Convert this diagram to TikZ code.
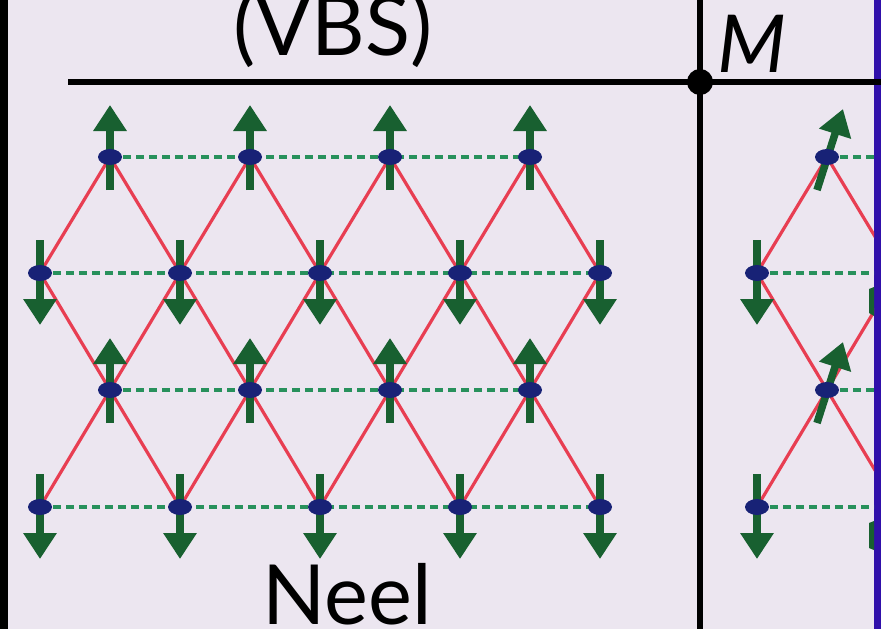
\documentclass[tikz,border=0pt]{standalone}
\usepackage{fontspec}
\setmainfont{Lato}
\usetikzlibrary{arrows.meta,shapes.geometric,calc}
\definecolor{bgc}{RGB}{236,230,240}
\definecolor{bondred}{RGB}{232,62,82}
\definecolor{spingreen}{RGB}{24,96,48}
\definecolor{dashgreen}{RGB}{40,145,92}
\definecolor{dotblue}{RGB}{24,34,118}
\definecolor{edgeblue}{RGB}{48,16,170}
\begin{document}
\begin{tikzpicture}[x=1pt,y=-1pt,
  site/.style={ellipse,fill=dotblue,minimum width=24pt,minimum height=16pt,inner sep=0pt},
  bond/.style={bondred,line width=3.2pt},
  chain/.style={dashgreen,line width=3.2pt,dash pattern=on 8pt off 5pt},
  spin/.style={spingreen,line width=7.5pt,-{Triangle[width=32pt,length=26pt]}},
  axis/.style={black,line width=6pt},
  bigtext/.style={inner sep=0pt,anchor=base,font=\fontsize{83}{90}\selectfont}]
\useasboundingbox (0,0) rectangle (881,629);
\fill[bgc] (0,0) rectangle (881,629);
\fill[black] (0,0) rectangle (8,629);
\fill[edgeblue] (874,0) rectangle (881,629);

% coordinates of sites
\foreach \i in {1,...,4}{
  \coordinate (u\i) at ({110+140*(\i-1)},157);
  \coordinate (v\i) at ({110+140*(\i-1)},390);
}
\foreach \i in {1,...,5}{
  \coordinate (d\i) at ({40+140*(\i-1)},273);
  \coordinate (e\i) at ({40+140*(\i-1)},507);
}
\coordinate (R1) at (827,157);
\coordinate (R2) at (757,273);
\coordinate (R3) at (827,390);
\coordinate (R4) at (757,507);
\coordinate (Q2) at (897,273);
\coordinate (Q4) at (897,507);
\coordinate (E1) at (874,157);
\coordinate (E2) at (874,273);
\coordinate (E3) at (874,390);
\coordinate (E4) at (874,507);

% red bonds
\foreach \i [evaluate=\i as \j using int(\i+1)] in {1,...,4}{
  \draw[bond] (d\i) -- (u\i) -- (d\j);
  \draw[bond] (d\i) -- (v\i) -- (d\j);
  \draw[bond] (e\i) -- (v\i) -- (e\j);
}
\begin{scope}
  \clip (703,0) rectangle (874,629);
  \draw[bond] (R2) -- (R1) -- (Q2);
  \draw[bond] (R2) -- (R3) -- (Q2);
  \draw[bond] (R4) -- (R3) -- (Q4);
\end{scope}

% dashed chains
\draw[chain] (u1) -- (u4);
\draw[chain] (d1) -- (d5);
\draw[chain] (v1) -- (v4);
\draw[chain] (e1) -- (e5);
\draw[chain] (R1) -- (E1);
\draw[chain] (R2) -- (E2);
\draw[chain] (R3) -- (E3);
\draw[chain] (R4) -- (E4);

% spins
\foreach \i in {1,...,4}{
  \draw[spin] ($(u\i)+(0,33)$) -- ($(u\i)+(0,-52)$);
  \draw[spin] ($(v\i)+(0,33)$) -- ($(v\i)+(0,-52)$);
}
\foreach \i in {1,...,5}{
  \draw[spin] ($(d\i)+(0,-33)$) -- ($(d\i)+(0,52)$);
  \draw[spin] ($(e\i)+(0,-33)$) -- ($(e\i)+(0,52)$);
}
\draw[spin] ($(R1)+(-10,33)$) -- ($(R1)+(16,-48)$);
\draw[spin] ($(R3)+(-10,33)$) -- ($(R3)+(16,-48)$);
\draw[spin] ($(R2)+(0,-33)$) -- ($(R2)+(0,52)$);
\draw[spin] ($(R4)+(0,-33)$) -- ($(R4)+(0,52)$);
\fill[spingreen] (869,289) -- (874,287) -- (874,316) -- (869,313) -- cycle;
\fill[spingreen] (869,523) -- (874,521) -- (874,550) -- (869,548) -- cycle;

% sites
\foreach \n in {u1,u2,u3,u4,v1,v2,v3,v4,d1,d2,d3,d4,d5,e1,e2,e3,e4,e5,R1,R2,R3,R4}{
  \node[site] (s\n) at (\n) {};
}

% axes
\coordinate (origin) at (700,82);
\coordinate (hleft) at (68,82);
\coordinate (hright) at (881,82);
\coordinate (vtop) at (700,0);
\coordinate (vbot) at (700,629);
\draw[axis] (hleft) -- (hright);
\draw[axis] (vtop) -- (vbot);
\fill[black] (origin) circle (13pt);

% labels
\node[bigtext] (vbs) at (333,55) {(VBS)};
\node[bigtext] (neel) at (347,624) {Neel};
\node[bigtext,font=\fontsize{80}{90}\selectfont\itshape] (m) at (752,72) {M};
\end{tikzpicture}
\end{document}
